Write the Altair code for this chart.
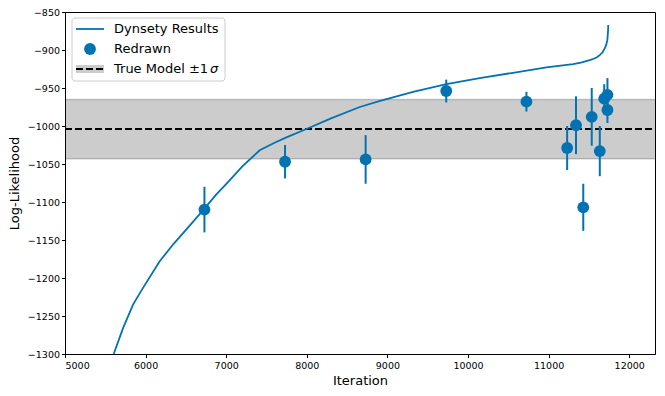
import altair as alt
import pandas as pd

# Dynesty trace (iteration vs log-likelihood)
line_iter = [5604, 5720, 5844, 5968, 6175, 6340, 6506, 6671, 6878, 7002, 7200, 7416,
             7600, 7747, 7995, 8300, 8657, 8910, 9318, 9732, 10145, 10558, 10973,
             11303, 11400, 11510, 11560, 11600, 11634, 11670, 11696, 11715, 11729, 11737, 11740]
line_logl = [-1300, -1266, -1235, -1213, -1178, -1156, -1136, -1116, -1090, -1076, -1053, -1032,
             -1022, -1015, -1004, -990, -975, -967, -955, -945, -937, -930, -923,
             -918.6, -916.5, -913.4, -911.5, -909.5, -906.8, -903, -898, -893, -887, -876, -867]

# Redrawn points with 1-sigma errors
pt_iter = [6730, 7730, 8730, 9730, 10725, 11230, 11340, 11430, 11535, 11635, 11690, 11730, 11730]
pt_logl = [-1110, -1047, -1044, -954, -968, -1029, -999, -1107, -988, -1033, -964, -959, -979]
pt_err = [30, 22, 32, 15, 13, 29, 38, 31, 38, 33, 19, 22, 17]

# True model
true_model = -1004
true_sigma = 39

x_ticks = [5000, 6000, 7000, 8000, 9000, 10000, 11000, 12000]
y_ticks = [-1300, -1250, -1200, -1150, -1100, -1050, -1000, -950, -900, -850]

legend_labels = ["Dynsety Results", "Redrawn", "True Model \u00b11"]

BLUE = "#0173b2"
W, H = 590, 342

line_df = pd.DataFrame({"iteration": line_iter, "logl": line_logl})
pts_df = pd.DataFrame({"iteration": pt_iter, "logl": pt_logl, "err": pt_err})
pts_df["lo"] = pts_df["logl"] - pts_df["err"]
pts_df["hi"] = pts_df["logl"] + pts_df["err"]
band_df = pd.DataFrame({"lo": [true_model - true_sigma], "hi": [true_model + true_sigma],
                        "mid": [true_model]})

xs = alt.Scale(domain=[5000, 12320], nice=False, zero=False)
ys = alt.Scale(domain=[-1300, -850], nice=False, zero=False)
xaxis = alt.Axis(values=x_ticks, format="d", grid=False, title="Iteration")
yaxis = alt.Axis(values=y_ticks, format="d", grid=False, title="Log-Likelihood",
                 labelExpr="replace(datum.label, '-', '\u2212')")


def X(f):
    return alt.X(f, type="quantitative", scale=xs, axis=xaxis)


def Y(f):
    return alt.Y(f, type="quantitative", scale=ys, axis=yaxis)


band = alt.Chart(band_df).mark_rect(color="#000000", opacity=0.2).encode(
    x=alt.value(0), x2=alt.value(W), y=Y("lo"), y2="hi")
band_lo = alt.Chart(band_df).mark_rule(color="#000000", opacity=0.2, strokeWidth=1.5).encode(
    x=alt.value(0), x2=alt.value(W), y=Y("lo"))
band_hi = alt.Chart(band_df).mark_rule(color="#000000", opacity=0.2, strokeWidth=1.5).encode(
    x=alt.value(0), x2=alt.value(W), y=Y("hi"))
mid = alt.Chart(band_df).mark_rule(color="#000000", strokeWidth=2, strokeDash=[7, 3]).encode(
    x=alt.value(0), x2=alt.value(W), y=Y("mid"))

trace = alt.Chart(line_df).mark_line(color=BLUE, strokeWidth=1.8).encode(
    x=X("iteration"), y=Y("logl"))

errbars = alt.Chart(pts_df).mark_rule(color=BLUE, strokeWidth=2).encode(
    x=X("iteration"), y=Y("lo"), y2="hi")
points = alt.Chart(pts_df).mark_circle(color=BLUE, opacity=1, size=140).encode(
    x=X("iteration"), y=Y("logl"))

# Legend (drawn manually to mimic the matplotlib legend)
one = pd.DataFrame({"a": [0]})
lg_box = alt.Chart(one).mark_rect(fill="white", fillOpacity=0.85, stroke="#cccccc",
                                  strokeWidth=1, cornerRadius=3).encode(
    x=alt.value(7), x2=alt.value(160), y=alt.value(6), y2=alt.value(69))
lg_line = alt.Chart(one).mark_rule(color=BLUE, strokeWidth=1.8).encode(
    x=alt.value(11), x2=alt.value(39), y=alt.value(17))
lg_pt = alt.Chart(one).mark_circle(color=BLUE, opacity=1, size=140).encode(
    x=alt.value(25), y=alt.value(37))
lg_patch = alt.Chart(one).mark_rect(color="#000000", opacity=0.2).encode(
    x=alt.value(11), x2=alt.value(39), y=alt.value(53), y2=alt.value(61))
lg_dash = alt.Chart(one).mark_rule(color="#000000", strokeWidth=2, strokeDash=[7, 3]).encode(
    x=alt.value(11), x2=alt.value(39), y=alt.value(57))
lg_texts = []
for i, lab in enumerate(legend_labels):
    lg_texts.append(alt.Chart(one).mark_text(
        align="left", baseline="middle", fontSize=13, font="DejaVu Sans", color="black",
        text=lab).encode(x=alt.value(49), y=alt.value(17 + 20 * i)))
lg_sigma = alt.Chart(one).mark_text(
    align="left", baseline="middle", fontSize=13, font="DejaVu Sans", fontStyle="italic",
    color="black", text="\u03c3").encode(x=alt.value(145), y=alt.value(57))

chart = alt.layer(
    band, band_lo, band_hi, mid, trace, errbars, points,
    lg_box, lg_line, lg_pt, lg_patch, lg_dash, *lg_texts, lg_sigma
).properties(
    width=W, height=H,
    autosize=alt.AutoSizeParams(type="none"),
    padding={"left": 57, "top": 4, "right": 2, "bottom": 34},
).configure_view(
    stroke="#000000", strokeWidth=1
).configure_axis(
    domainColor="#000000", domainWidth=1, tickColor="#000000", tickSize=3.5,
    labelFont="DejaVu Sans", labelFontSize=9.5, labelColor="#000000",
    titleFont="DejaVu Sans", titleFontSize=13, titleFontWeight="normal", titleColor="#000000",
).configure_axisY(titlePadding=6, labelPadding=2).configure_axisX(titlePadding=4, labelPadding=3)

chart.save("out.html", embed_options={"renderer": "svg", "actions": False})
